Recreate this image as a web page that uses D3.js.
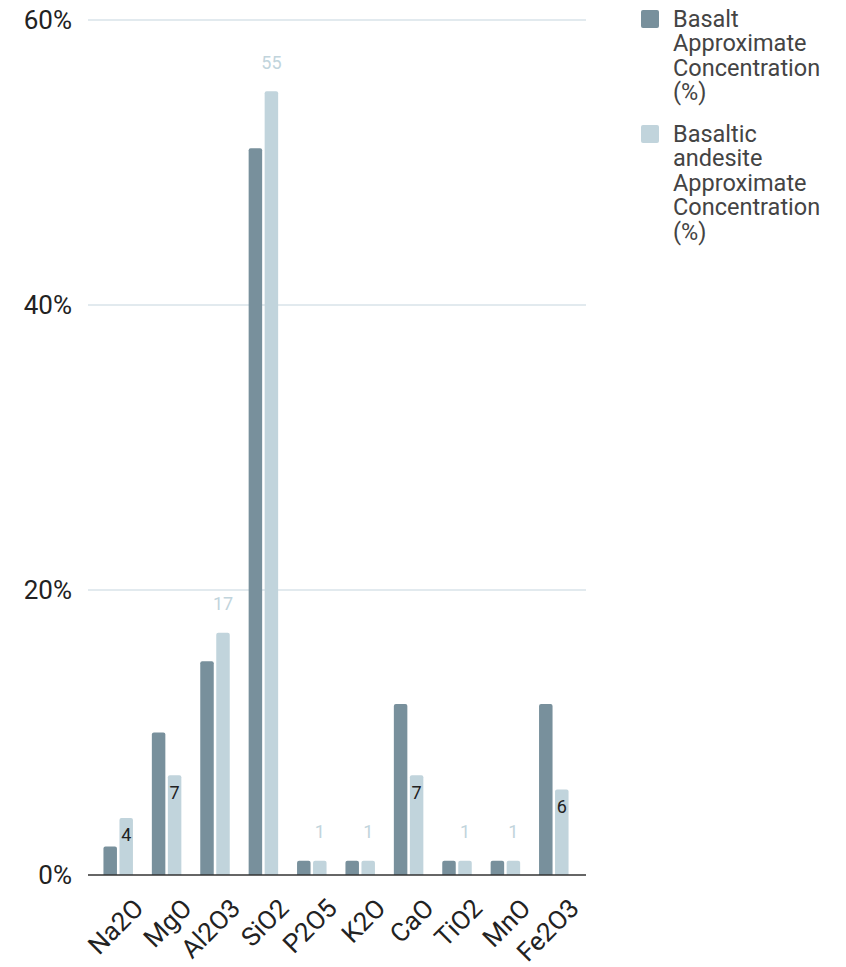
<!DOCTYPE html>
<html>
<head>
<meta charset="utf-8">
<script src="https://cdn.jsdelivr.net/npm/d3@7"></script>
<style>
  body { margin: 0; background: #fff; }
  svg text { font-family: Roboto, "Noto Sans", sans-serif; }
</style>
</head>
<body>
<div id="chart"></div>
<script>
// データ
const oxides = ["Na2O", "MgO", "Al2O3", "SiO2", "P2O5", "K2O", "CaO", "TiO2", "MnO", "Fe2O3"];
const basalt = [2, 10, 15, 51, 1, 1, 12, 1, 1, 12];
const andesite = [4, 7, 17, 55, 1, 1, 7, 1, 1, 6];
const seriesNames = [
  ["Basalt", "Approximate", "Concentration", "(%)"],
  ["Basaltic", "andesite", "Approximate", "Concentration", "(%)"]
];
const yTicks = [0, 20, 40, 60];

const width = 846, height = 967;
const colors = ["#78909c", "#c1d4dc"];

const svg = d3.select("#chart").append("svg")
  .attr("width", width)
  .attr("height", height);

const x = d3.scaleBand().domain(oxides).range([94, 578]).paddingInner(0).paddingOuter(0);
const y = d3.scaleLinear().domain([0, 60]).range([875, 20]);

// グリッド線
svg.append("g").selectAll("line")
  .data(yTicks.filter(t => t > 0))
  .enter().append("line")
  .attr("x1", 88).attr("x2", 586)
  .attr("y1", d => y(d)).attr("y2", d => y(d))
  .attr("stroke", "#c5d5de").attr("stroke-width", 1);

// Y軸ラベル
svg.append("g").selectAll("text")
  .data(yTicks)
  .enter().append("text")
  .attr("x", 72)
  .attr("y", d => y(d))
  .attr("dy", "0.36em")
  .attr("text-anchor", "end")
  .attr("font-size", 26)
  .attr("fill", "#222")
  .text(d => d + "%");

const barW = 13.5, gap = 2.5;

const series = [basalt, andesite];
series.forEach((vals, si) => {
  svg.append("g").selectAll("path")
    .data(vals.map((v, i) => ({ k: oxides[i], v })))
    .enter().append("path")
    .attr("fill", colors[si])
    .attr("d", d => {
      const cx = x(d.k) + x.bandwidth() / 2;
      const x0 = si === 0 ? cx - gap / 2 - barW : cx + gap / 2;
      const y0 = y(d.v), y1 = y(0), r = 2;
      return `M${x0},${y1}V${y0 + r}Q${x0},${y0} ${x0 + r},${y0}H${x0 + barW - r}Q${x0 + barW},${y0} ${x0 + barW},${y0 + r}V${y1}Z`;
    });
});

// 値ラベル (andesite のみ)
const isInside = v => v >= 4 && v <= 10;
svg.append("g").selectAll("text")
  .data(andesite.map((v, i) => ({ k: oxides[i], v })))
  .enter().append("text")
  .attr("x", d => x(d.k) + x.bandwidth() / 2 + gap / 2 + barW / 2)
  .attr("y", d => isInside(d.v) ? y(d.v) + 17 : y(d.v) - 29)
  .attr("dy", "0.36em")
  .attr("text-anchor", "middle")
  .attr("font-size", 18)
  .attr("fill", d => isInside(d.v) ? "#222" : "#c1d4dc")
  .text(d => d.v);

// ベースライン
svg.append("line")
  .attr("x1", 88).attr("x2", 586)
  .attr("y1", y(0)).attr("y2", y(0))
  .attr("stroke", "#333").attr("stroke-width", 1.5);

// X軸ラベル
svg.append("g").selectAll("text")
  .data(oxides)
  .enter().append("text")
  .attr("transform", d => `translate(${x(d) + x.bandwidth() / 2 + 14},${897}) rotate(-45)`)
  .attr("text-anchor", "end")
  .attr("dy", "0.7em")
  .attr("font-size", 26)
  .attr("fill", "#222")
  .text(d => d);

// 凡例
const legendTops = [10, 125];
seriesNames.forEach((lines, si) => {
  const g = svg.append("g").attr("transform", `translate(641,${legendTops[si]})`);
  g.append("rect")
    .attr("width", 18).attr("height", 18).attr("rx", 2)
    .attr("fill", colors[si]);
  g.append("text")
    .attr("font-size", 23.5)
    .attr("fill", "#444")
    .selectAll("tspan")
    .data(lines)
    .enter().append("tspan")
    .attr("x", 32)
    .attr("y", (d, i) => 16.5 + i * 24.6)
    .text(d => d);
});
</script>
</body>
</html>
